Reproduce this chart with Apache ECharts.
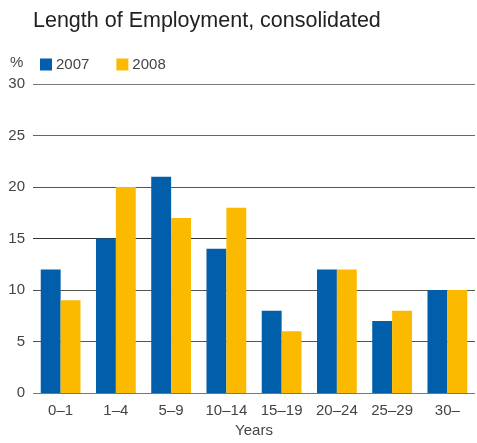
<!DOCTYPE html>
<html><head><meta charset="utf-8">
<script src="https://cdn.jsdelivr.net/npm/echarts@6/dist/echarts.min.js"></script>
<style>html,body{margin:0;padding:0;background:#fff}#c{width:477px;height:443px}</style>
</head><body><div id="c"></div>
<script>
const categories = ['0–1','1–4','5–9','10–14','15–19','20–24','25–29','30–'];
const s2007 = [12,15,21,14,8,12,7,10];
const s2008 = [9,20,17,18,6,12,8,10];
const yTicks = [0,5,10,15,20,25,30];
const chart = echarts.init(document.getElementById('c'), null, {renderer:'canvas'});
const font = 'Helvetica, "Liberation Sans", Arial, sans-serif';
chart.setOption({
  animation:false,
  textStyle:{fontFamily:font},
  title:{text:'Length of Employment, consolidated', left:28, top:5,
    textStyle:{fontSize:21.5, fontWeight:'normal', color:'#222', fontFamily:font}},
  graphic:[{type:'text', left:10, top:55, style:{text:'%', fontSize:15, fill:'#444', font:'15px '+font}}],
  legend:{left:35, top:52, itemWidth:12, itemHeight:12, itemGap:27, icon:'rect',
    textStyle:{fontSize:15, color:'#444', padding:[0,0,0,-1]}, data:['2007','2008']},
  grid:{left:33, right:2, top:84, bottom:45, containLabel:false},
  xAxis:{type:'category', data:categories, name:'Years', nameLocation:'middle', nameGap:29,
    nameTextStyle:{fontSize:15, color:'#444'},
    axisTick:{show:false}, axisLine:{show:false},
    axisLabel:{fontSize:15, color:'#444', margin:10}},
  yAxis:{type:'value', min:0, max:30, interval:5,
    axisLabel:{fontSize:15, color:'#444', margin:8,
      formatter:v=>yTicks.includes(v)?String(v):''},
    axisLine:{show:false}, axisTick:{show:false},
    splitLine:{lineStyle:{color:['#777','#555','#555','#333','#555','#666','#777'], width:1}}},
  series:[
    {name:'2007', type:'bar', data:s2007, barGap:'0%', barCategoryGap:'28%', itemStyle:{color:'#005EAA'}},
    {name:'2008', type:'bar', data:s2008, barGap:'0%', barCategoryGap:'28%', itemStyle:{color:'#FBBA00'}}
  ]
});
</script></body></html>
